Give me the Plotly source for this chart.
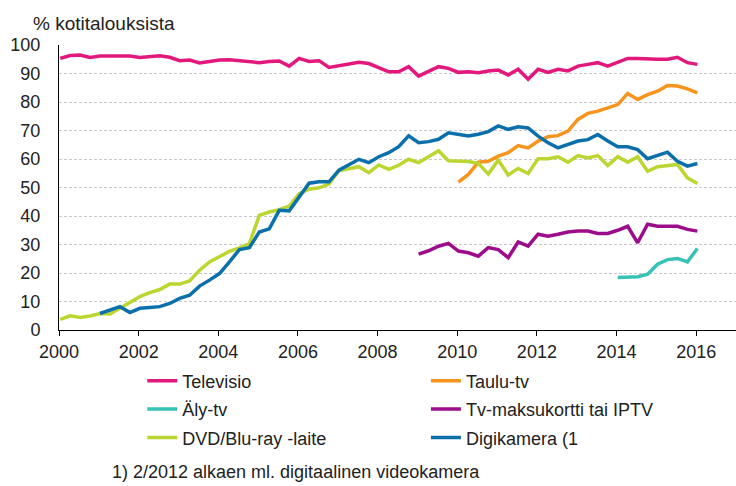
import plotly.graph_objects as go

# quarterly observations, 2000 Q1 .. 2016 Q1
years = list(range(2000, 2017))
quarters = [0, 1, 2, 3]
time = [y + q / 4 + 0.03 for y in years for q in quarters][:65]

televisio = [95.3, 96.3, 96.5, 95.6, 96.1, 96.2, 96.2, 96.1, 95.6, 96.0, 96.2, 95.7,
             94.5, 94.7, 93.7, 94.2, 94.7, 94.8, 94.4, 93.9, 93.8, 94.2, 94.4, 92.6,
             95.3, 94.2, 94.5, 92.1, 92.6, 93.3, 93.9, 93.5, 92.0,
             90.6, 90.6, 92.4, 89.1, 90.9, 92.4, 91.8, 90.4, 90.6, 90.3, 90.9, 91.2,
             89.5, 91.5, 88.0, 91.5, 90.4, 91.5, 90.9, 92.6, 93.2, 93.8, 92.6, 93.8,
             95.3, 95.3, 95.0, 95.0, 95.0, 95.7, 93.8, 93.2]

dvd = [3.7, 5.0, 4.4, 4.9, 5.8, 5.6, 7.6, 9.6, 11.7, 13.1, 14.2, 16.1, 16.1,
       17.2, 21.0, 23.9, 25.9, 27.6, 28.8, 30.3, 40.2, 41.4, 42.2, 43.5, 47.8,
       49.4, 49.9, 51.2, 55.9, 56.7, 57.3, 55.2, 57.9, 56.4, 57.8, 59.9, 58.7,
       60.8, 62.9, 59.4, 59.4, 59.1, 58.5, 54.7, 59.6, 54.4, 56.7,
       54.9, 60.1, 60.1, 60.8, 58.9, 61.2, 60.4, 61.2, 57.7, 60.8, 58.9, 60.8,
       55.7, 57.3, 57.7, 58.1, 53.4, 51.4]

digikamera_start = 4
digikamera = [5.8, 7.0, 8.2, 6.1, 7.6, 7.9, 8.2, 9.3, 11.1, 12.2, 15.4, 17.5,
              19.8, 23.9, 28.2, 28.9, 34.4, 35.5,
              42.0, 41.8, 46.5, 51.5, 52.0, 52.0, 56.1, 57.9, 59.9, 58.7, 60.8,
              62.2, 64.3, 68.1, 65.7, 66.1, 66.9, 69.2, 68.7, 68.1, 68.7, 69.6,
              71.6, 70.4, 71.3,
              70.9, 68.0, 65.7, 63.9, 65.1, 66.3, 66.8, 68.6, 66.3, 64.3, 64.3,
              63.3, 60.1, 61.2, 62.4, 59.2, 57.5, 58.4]

taulu_start = 40
taulu = [51.9, 54.6, 58.9, 59.2, 61.0, 62.2, 64.7, 63.9, 66.3, 67.8, 68.2, 69.8,
         73.9, 76.0, 76.8, 78.0, 79.1, 83.0, 80.9, 82.6, 83.8, 85.8, 85.6, 84.6, 83.2]

maksu_start = 36
maksukortti = [26.6, 27.8, 29.4, 30.4, 27.7, 27.1, 25.9, 28.9, 28.2, 25.4, 30.9,
               29.4, 33.6, 32.9, 33.6, 34.4, 34.7, 34.7, 33.9, 33.9, 35.0, 36.4,
               30.6, 37.1, 36.4, 36.4, 36.4, 35.3, 34.7]

aly_start = 56
aly = [18.4, 18.4, 18.7, 19.6, 23.1, 24.7, 25.1, 23.9, 28.6]

series = [
    ("Televisio", 0, televisio, "#e3187d", "legend"),
    ("Taulu-tv", taulu_start, taulu, "#f7941e", "legend2"),
    ("Äly-tv", aly_start, aly, "#36c2b4", "legend"),
    ("Tv-maksukortti tai IPTV", maksu_start, maksukortti, "#9d0c8b", "legend2"),
    ("DVD/Blu-ray -laite", 0, dvd, "#bcd631", "legend"),
    ("Digikamera (1", digikamera_start, digikamera, "#0b6fac", "legend2"),
]

font = "Liberation Sans, Arial, sans-serif"

fig = go.Figure()
for name, start, vals, color, leg in series:
    fig.add_trace(go.Scatter(
        x=time[start:start + len(vals)],
        y=vals,
        mode="lines",
        name=name,
        legend=leg,
        legendgroup=name,
        line=dict(color=color, width=3.5),
    ))

legend_style = dict(
    y=-0.114, xanchor="left", yanchor="top",
    font=dict(size=18, family=font, color="#222"),
    bgcolor="rgba(0,0,0,0)", tracegroupgap=2,
)

fig.update_layout(
    width=736, height=486, autosize=False,
    margin=dict(l=59, r=0, t=45, b=156, autoexpand=False),
    plot_bgcolor="white", paper_bgcolor="white",
    font=dict(family=font, size=18, color="#222"),
    showlegend=True,
    legend=dict(x=0.123, **legend_style),
    legend2=dict(x=0.542, **legend_style),
    xaxis=dict(
        range=[2000, 2017], tickvals=list(range(2000, 2017, 2)),
        showgrid=False, showline=True, linecolor="black", linewidth=1,
        ticks="outside", ticklen=5, tickcolor="black", zeroline=False,
        automargin=False,
    ),
    yaxis=dict(
        range=[0, 100], dtick=10, showline=True, linecolor="black", linewidth=1,
        gridcolor="#c9c5d1", griddash="3px,2px", gridwidth=1,
        zeroline=False, ticklabelstandoff=14, automargin=False,
    ),
    annotations=[
        dict(text="% kotitalouksista", xref="paper", yref="paper",
             x=-0.042, y=1.074, xanchor="left", yanchor="middle",
             showarrow=False, font=dict(size=19)),
        dict(text="1) 2/2012 alkaen ml. digitaalinen videokamera",
             xref="paper", yref="paper", x=0.075, y=-0.498,
             xanchor="left", yanchor="middle", showarrow=False,
             font=dict(size=18)),
    ],
)

fig.write_html("out.html", config={"displayModeBar": False},
               post_script="document.body.style.margin='0';")
